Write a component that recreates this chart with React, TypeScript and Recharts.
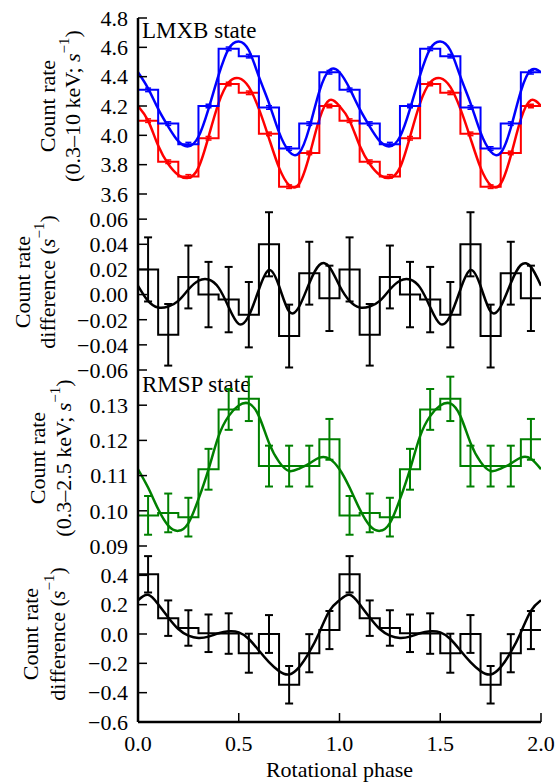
import React from 'react';
import { ComposedChart, Line, XAxis, YAxis, ErrorBar } from 'recharts';

// phase of bin left edges and of the model samples, one cycle (plotted twice)
const binPhase = [0.0, 0.1, 0.2, 0.3, 0.4, 0.5, 0.6, 0.7, 0.8, 0.9];
const binWidth = 0.1;
const modelPhase = [
  0.0, 0.05, 0.1, 0.15, 0.2, 0.25, 0.3, 0.35, 0.4, 0.45,
  0.5, 0.55, 0.6, 0.65, 0.7, 0.75, 0.8, 0.85, 0.9, 0.95,
];
const xTicks = [0, 0.5, 1, 1.5, 2];

// LMXB state, 0.3-10 keV count rate
const lmxbBlueBins = [4.31, 4.08, 3.94, 4.20, 4.59, 4.54, 4.19, 3.91, 4.08, 4.43];
const lmxbRedBins = [4.10, 3.82, 3.72, 3.98, 4.35, 4.29, 4.01, 3.65, 3.88, 4.20];
const lmxbErr = [0.012, 0.012, 0.012, 0.012, 0.012, 0.012, 0.012, 0.012, 0.012, 0.012];
const lmxbBlueModel = [
  4.43, 4.32, 4.18, 4.06, 3.96, 3.925, 3.99, 4.18, 4.41, 4.59,
  4.64, 4.58, 4.40, 4.22, 4.02, 3.89, 3.88, 4.05, 4.30, 4.445,
];
const lmxbRedModel = [
  4.20, 4.10, 3.93, 3.805, 3.73, 3.71, 3.78, 3.99, 4.22, 4.36,
  4.39, 4.33, 4.18, 3.98, 3.78, 3.66, 3.67, 3.86, 4.11, 4.24,
];

// LMXB difference
const lmxbDiffBins = [0.020, -0.032, 0.014, 0.000, -0.004, -0.016, 0.040, -0.033, 0.017, -0.003];
const lmxbDiffErr = [0.0255, 0.0245, 0.025, 0.026, 0.026, 0.026, 0.0255, 0.025, 0.025, 0.026];
const lmxbDiffModel = [
  0.007, -0.005, -0.0103, -0.0095, -0.005, 0.004, 0.011, 0.012, 0.0055, -0.010,
  -0.0234, -0.0168, 0.004, 0.0195, 0.0068, -0.0135, -0.0095, 0.009, 0.0235, 0.022,
];

// RMSP state, 0.3-2.5 keV count rate
const rmspBins = [0.0987, 0.0994, 0.0982, 0.1118, 0.1288, 0.1318, 0.1127, 0.1127, 0.1127, 0.1203];
const rmspErr = [0.0055, 0.0055, 0.0055, 0.0058, 0.0058, 0.0063, 0.0058, 0.0058, 0.0058, 0.0058];
const rmspModel = [
  0.1118, 0.1066, 0.1005, 0.0958, 0.0943, 0.0965, 0.1033, 0.1118, 0.1212, 0.1269,
  0.1299, 0.1305, 0.1269, 0.1193, 0.1139, 0.1113, 0.1120, 0.1134, 0.1151, 0.1148,
];

// RMSP difference
const rmspDiffBins = [0.407, 0.108, 0.041, 0.005, 0.003, -0.131, 0.0, -0.346, -0.131, 0.027];
const rmspDiffErr = [0.124, 0.121, 0.121, 0.128, 0.138, 0.133, 0.129, 0.128, 0.13, 0.13];
const rmspDiffModel = [
  0.23, 0.267, 0.203, 0.113, 0.034, -0.011, -0.027, -0.018, 0.005, 0.018,
  0.011, -0.034, -0.113, -0.192, -0.253, -0.276, -0.226, -0.124, 0.011, 0.158,
];

type Pt = { x: number; y: number; e?: number };

function steps(vals: number[]): Pt[] {
  const pts: Pt[] = [];
  for (let c = 0; c < 2; c++) binPhase.forEach((p, i) => pts.push({ x: p + c, y: vals[i] }));
  pts.push({ x: 2, y: vals[vals.length - 1] });
  return pts;
}

function centres(vals: number[], errs: number[]): Pt[] {
  const pts: Pt[] = [];
  for (let c = 0; c < 2; c++)
    binPhase.forEach((p, i) => pts.push({ x: p + binWidth / 2 + c, y: vals[i], e: errs[i] }));
  return pts;
}

function model(vals: number[]): Pt[] {
  const pts: Pt[] = [];
  for (let c = 0; c < 2; c++) modelPhase.forEach((p, i) => pts.push({ x: p + c, y: vals[i] }));
  pts.push({ x: 2, y: vals[0] });
  return pts;
}

const FONT = 'Liberation Serif, DejaVu Serif, serif';
const frame = { stroke: '#000', strokeWidth: 2.5 };
const tickLine = { stroke: '#000', strokeWidth: 1.5 };
const tickText = { fill: '#000', fontSize: 22, fontFamily: FONT };

const fmt = (d: number) => (v: number) => v.toFixed(d).replace('-', '\u2212');

const sInv = (
  <>
    <tspan fontStyle="italic">s</tspan>
    <tspan dy={-8} fontSize={15}>{'\u22121'}</tspan>
    <tspan dy={8}>)</tspan>
  </>
);

const yLabel = (lines: React.ReactNode[], xs: number[]) => (props: any) => {
  const vb = props.viewBox || { x: 0, y: 0, width: 0, height: 0 };
  const cy = vb.y + vb.height / 2;
  return (
    <g>
      {lines.map((l, i) => (
        <text
          key={i}
          x={xs[i]}
          y={cy}
          transform={`rotate(-90 ${xs[i]} ${cy})`}
          textAnchor="middle"
          dominantBaseline="central"
          fontSize={22}
          fontFamily={FONT}
          fill="#000"
        >
          {l}
        </text>
      ))}
    </g>
  );
};

const xLabel = (props: any) => {
  const vb = props.viewBox || { x: 0, y: 0, width: 0, height: 0 };
  return (
    <text x={vb.x + vb.width / 2} y={vb.y + 55} textAnchor="middle" fontSize={22} fontFamily={FONT} fill="#000">
      Rotational phase
    </text>
  );
};

type PanelProps = {
  top: number;
  height: number;
  margin: { top: number; right: number; bottom: number; left: number };
  domain: [number, number];
  ticks: number[];
  digits: number;
  label: React.ReactNode[];
  labelX: number[];
  bottom?: boolean;
  children: React.ReactNode;
};

function Panel({ top, height, margin, domain, ticks, digits, label, labelX, bottom, children }: PanelProps) {
  return (
    <div style={{ position: 'absolute', left: 0, top }}>
      <ComposedChart width={558} height={height} margin={margin}>
        <XAxis
          type="number"
          dataKey="x"
          domain={[0, 2]}
          ticks={xTicks}
          interval={0}
          allowDataOverflow
          height={bottom ? 61 : 0}
          axisLine={frame}
          tickLine={tickLine}
          tickSize={-9}
          tickMargin={22}
          tick={bottom ? tickText : false}
          tickFormatter={fmt(1)}
          label={bottom ? xLabel : undefined}
        />
        <XAxis
          xAxisId="top"
          orientation="top"
          type="number"
          dataKey="x"
          domain={[0, 2]}
          ticks={xTicks}
          interval={0}
          allowDataOverflow
          height={0}
          axisLine={frame}
          tickLine={tickLine}
          tickSize={-9}
          tick={false}
        />
        <YAxis
          type="number"
          domain={domain}
          ticks={ticks}
          interval={0}
          allowDataOverflow
          width={138}
          axisLine={frame}
          tickLine={tickLine}
          tickSize={-9}
          tickMargin={19}
          tick={tickText}
          tickFormatter={fmt(digits)}
          label={yLabel(label, labelX)}
        />
        <YAxis
          yAxisId="right"
          orientation="right"
          type="number"
          domain={domain}
          ticks={ticks}
          interval={0}
          allowDataOverflow
          width={0}
          axisLine={frame}
          tickLine={tickLine}
          tickSize={-9}
          tick={false}
        />
        {children}
      </ComposedChart>
    </div>
  );
}

const histLines = (
  bins: number[],
  errs: number[],
  mod: number[],
  color: string,
  key: string,
  capHalf = 4,
  errWidth = 2,
) => [
  <Line key={key + 's'} data={steps(bins)} dataKey="y" type="stepAfter" stroke={color} strokeWidth={2} dot={false} activeDot={false} isAnimationActive={false} />,
  <Line key={key + 'e'} data={centres(bins, errs)} dataKey="y" stroke="none" dot={false} activeDot={false} isAnimationActive={false}>
    <ErrorBar dataKey="e" width={capHalf} strokeWidth={errWidth} stroke={color} isAnimationActive={false} />
  </Line>,
  <Line key={key + 'm'} data={model(mod)} dataKey="y" type="natural" stroke={color} strokeWidth={2.5} dot={false} activeDot={false} isAnimationActive={false} />,
];

export default function App() {
  return (
    <div style={{ position: 'absolute', left: 0, top: 0, width: 558, height: 783, fontFamily: FONT, background: '#fff' }}>
      <Panel
        top={0}
        height={206}
        margin={{ top: 18, right: 17, bottom: 12, left: 0 }}
        domain={[3.6, 4.8]}
        ticks={[3.6, 3.8, 4.0, 4.2, 4.4, 4.6, 4.8]}
        digits={1}
        label={['Count rate', <>(0.3–10 keV; {sInv}</>]}
        labelX={[47, 72]}
      >
        {histLines(lmxbRedBins, lmxbErr, lmxbRedModel, '#ff0000', 'r', 3, 1.5)}
        {histLines(lmxbBlueBins, lmxbErr, lmxbBlueModel, '#0000ff', 'b', 3, 1.5)}
        <text x={142} y={38} fontSize={23} fontFamily={FONT} fill="#000">LMXB state</text>
      </Panel>
      <Panel
        top={182}
        height={200}
        margin={{ top: 12, right: 17, bottom: 12, left: 0 }}
        domain={[-0.06, 0.08]}
        ticks={[-0.06, -0.04, -0.02, 0, 0.02, 0.04, 0.06]}
        digits={2}
        label={['Count rate', <>difference ({sInv}</>]}
        labelX={[22, 47]}
      >
        {histLines(lmxbDiffBins, lmxbDiffErr, lmxbDiffModel, '#000000', 'd')}
      </Panel>
      <Panel
        top={358}
        height={200}
        margin={{ top: 12, right: 17, bottom: 12, left: 0 }}
        domain={[0.09, 0.14]}
        ticks={[0.09, 0.1, 0.11, 0.12, 0.13]}
        digits={2}
        label={['Count rate', <>(0.3–2.5 keV; {sInv}</>]}
        labelX={[37, 63]}
      >
        {histLines(rmspBins, rmspErr, rmspModel, '#008000', 'g')}
        <text x={142} y={34} fontSize={23} fontFamily={FONT} fill="#000">RMSP state</text>
      </Panel>
      <Panel
        top={534}
        height={249}
        margin={{ top: 12, right: 17, bottom: 0, left: 0 }}
        domain={[-0.6, 0.6]}
        ticks={[-0.6, -0.4, -0.2, 0, 0.2, 0.4]}
        digits={1}
        label={['Count rate', <>difference ({sInv}</>]}
        labelX={[30, 57]}
        bottom
      >
        {histLines(rmspDiffBins, rmspDiffErr, rmspDiffModel, '#000000', 'k')}
      </Panel>
    </div>
  );
}
